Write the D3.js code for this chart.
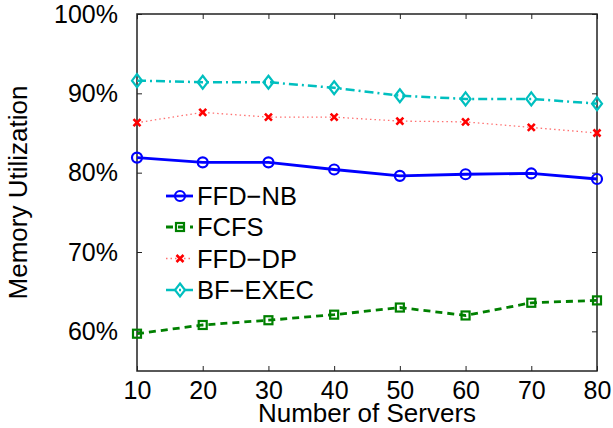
<!DOCTYPE html>
<html>
<head>
<meta charset="utf-8">
<script src="https://cdn.jsdelivr.net/npm/d3@7"></script>
<style>
  body { margin: 0; background: #fff; }
  text { font-family: "Liberation Sans", Arial, sans-serif; fill: #000; }
</style>
</head>
<body>
<div id="app"></div>
<script>
const servers = [10, 20, 30, 40, 50, 60, 70, 80]
const ffdNb = [81.9, 81.3, 81.3, 80.4, 79.6, 79.8, 79.9, 79.2]
const fcfs = [59.7, 60.8, 61.4, 62.1, 63.0, 62.0, 63.6, 63.9]
const ffdDp = [86.3, 87.6, 87.0, 87.0, 86.5, 86.4, 85.7, 85.0]
const bfExec = [91.6, 91.4, 91.4, 90.7, 89.7, 89.3, 89.3, 88.7]
const yTicks = [60, 70, 80, 90, 100]
const seriesNames = ["FFD\u2212NB", "FCFS", "FFD\u2212DP", "BF\u2212EXEC"]

const width = 613, height = 428
const margin = {left: 137, right: 16, top: 14, bottom: 57}

const svg = d3.select('#app')
    .append('svg')
    .attr('width', width)
    .attr('height', height)

const x = d3.scaleLinear()
    .domain([10, 80])
    .range([margin.left, width - margin.right])

const y = d3.scaleLinear()
    .domain([55, 100])
    .range([height - margin.bottom, margin.top])

const axisColor = '#222'
const tickLen = 5

// box
svg.append('rect')
    .attr('x', x(10)).attr('y', y(100))
    .attr('width', x(80) - x(10)).attr('height', y(55) - y(100))
    .attr('fill', 'none').attr('stroke', axisColor).attr('stroke-width', 1.5)

// bottom axis, ticks pointing in
const xAxis = svg.append('g')
    .attr('transform', `translate(0,${y(55)})`)
    .call(d3.axisBottom(x).tickValues(servers).tickSize(-tickLen).tickPadding(10).tickFormat(d3.format('d')))
xAxis.select('.domain').remove()
xAxis.selectAll('line').attr('stroke', axisColor).attr('stroke-width', 1)
xAxis.selectAll('text').attr('font-size', 25).attr('font-family', '"Liberation Sans", Arial, sans-serif').attr('fill', '#000')

const xTop = svg.append('g')
    .attr('transform', `translate(0,${y(100)})`)
    .call(d3.axisTop(x).tickValues(servers).tickSize(-tickLen).tickFormat(''))
xTop.select('.domain').remove()
xTop.selectAll('line').attr('stroke', axisColor)

// left axis
const yAxis = svg.append('g')
    .attr('transform', `translate(${x(10)},0)`)
    .call(d3.axisLeft(y).tickValues(yTicks).tickSize(-tickLen).tickPadding(19).tickFormat(d => d + '%'))
yAxis.select('.domain').remove()
yAxis.selectAll('line').attr('stroke', axisColor)
yAxis.selectAll('text').attr('font-size', 25).attr('font-family', '"Liberation Sans", Arial, sans-serif').attr('fill', '#000')

const yRight = svg.append('g')
    .attr('transform', `translate(${x(80)},0)`)
    .call(d3.axisRight(y).tickValues(yTicks).tickSize(-tickLen).tickFormat(''))
yRight.select('.domain').remove()
yRight.selectAll('line').attr('stroke', axisColor)

// axis titles
svg.append('text')
    .attr('x', (x(10) + x(80)) / 2)
    .attr('y', 422)
    .attr('text-anchor', 'middle')
    .attr('font-size', 26)
    .text('Number of Servers')

svg.append('text')
    .attr('transform', `translate(27,${(y(55) + y(100)) / 2}) rotate(-90)`)
    .attr('text-anchor', 'middle')
    .attr('font-size', 26)
    .text('Memory Utilization')

const styles = [
    {values: ffdNb, color: '#0000ff', width: 2.8, dash: null, marker: 'circle'},
    {values: fcfs, color: '#008000', width: 2.8, dash: '7,5', marker: 'square'},
    {values: ffdDp, color: '#ff0000', width: 1.3, dash: '1.5,3', marker: 'cross', lineColor: '#ff7070'},
    {values: bfExec, color: '#00bfbf', width: 2.5, dash: '9,4,2,4', marker: 'diamond'}
]

function drawMarker(g, type, color) {
    if (type === 'circle') {
        g.append('circle').attr('r', 5).attr('fill', 'none').attr('stroke', color).attr('stroke-width', 2.2)
    } else if (type === 'square') {
        g.append('rect').attr('x', -4).attr('y', -4).attr('width', 8).attr('height', 8)
            .attr('fill', 'none').attr('stroke', color).attr('stroke-width', 2.2)
    } else if (type === 'cross') {
        g.append('path').attr('d', 'M-3.5,-3.5L3.5,3.5M-3.5,3.5L3.5,-3.5')
            .attr('stroke', color).attr('stroke-width', 2.6).attr('fill', 'none')
    } else if (type === 'diamond') {
        g.append('path').attr('d', 'M0,-6.5L5,0L0,6.5L-5,0Z')
            .attr('fill', 'none').attr('stroke', color).attr('stroke-width', 2.2)
    }
}

const line = d3.line()
    .x((d, i) => x(servers[i]))
    .y(d => y(d))

// draw back to front so blue sits on top like the original
styles.slice().reverse().forEach(s => {
    svg.append('path')
        .datum(s.values)
        .attr('d', line)
        .attr('fill', 'none')
        .attr('stroke', s.lineColor || s.color)
        .attr('stroke-width', s.width)
        .attr('stroke-dasharray', s.dash)

    svg.selectAll(null)
        .data(s.values)
        .enter()
        .append('g')
        .attr('transform', (d, i) => `translate(${x(servers[i])},${y(d)})`)
        .each(function () { drawMarker(d3.select(this), s.marker, s.color) })
})

// legend
const legend = svg.append('g')
const rowY = [196, 227, 258.5, 290]
styles.forEach((s, i) => {
    const row = legend.append('g').attr('transform', `translate(0,${rowY[i]})`)
    row.append('line')
        .attr('x1', 166).attr('x2', 193)
        .attr('stroke', s.lineColor || s.color)
        .attr('stroke-width', s.width)
        .attr('stroke-dasharray', s.dash)
    const m = row.append('g').attr('transform', 'translate(180,0)')
    drawMarker(m, s.marker, s.color)
    row.append('text')
        .attr('x', 197)
        .attr('y', 0)
        .attr('dy', '0.36em')
        .attr('font-size', 25.5)
        .text(seriesNames[i])
})
</script>
</body>
</html>
